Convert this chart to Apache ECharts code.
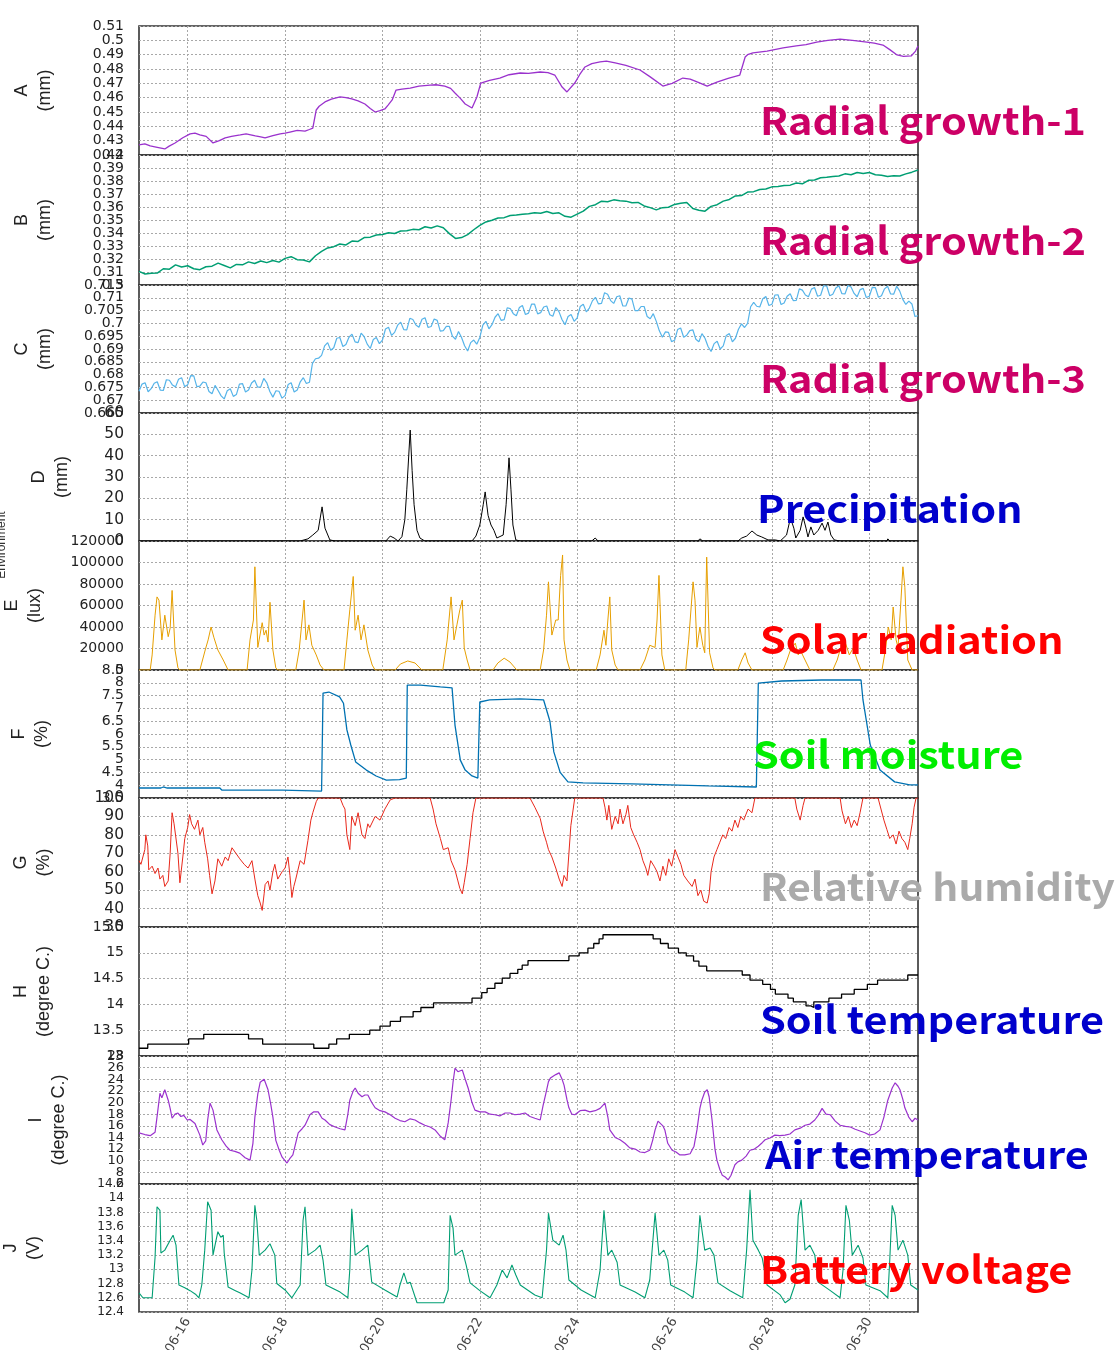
<!DOCTYPE html>
<html>
<head>
<meta charset="utf-8">
<script src="https://cdn.jsdelivr.net/npm/echarts@6/dist/echarts.min.js"></script>
<style>html,body{margin:0;padding:0;background:#fff}#c{width:1117px;height:1350px}</style>
</head>
<body>
<div id="c"></div>
<script>
// ---- x axis (day of June) ----
const dayTicks = [16, 18, 20, 22, 24, 26, 28, 30];
const dayLabels = ['06-16', '06-18', '06-20', '06-22', '06-24', '06-26', '06-28', '06-30'];

// ---- panel names / units ----
const panelLetters = ['A', 'B', 'C', 'D', 'E', 'F', 'G', 'H', 'I', 'J'];
const panelUnits = ['(mm)', '(mm)', '(mm)', '(mm)', '(lux)', '(%)', '(%)', '(degree C.)', '(degree C.)', '(V)'];
const yMins = [0.42, 0.30, 0.665, 0, 0, 3.5, 30, 13, 6, 12.4];
const yMaxs = [0.51, 0.40, 0.715, 60, 120000, 8.5, 100, 15.5, 28, 14.2];
const yIntervals = [0.01, 0.01, 0.005, 10, 20000, 0.5, 10, 0.5, 2, 0.2];
const overlayLabels = ['Radial growth-1', 'Radial growth-2', 'Radial growth-3', 'Precipitation', 'Solar radiation',
  'Soil moisture', 'Relative humidity', 'Soil temperature', 'Air temperature', 'Battery voltage'];

// ---- A: radial growth 1 (mm) [day, value] ----
const seriesA = [[15.00,.4270],[15.12,.4278],[15.23,.4263],[15.35,.4255],[15.53,.4242],[15.62,.4262],[15.74,.4284],[15.90,.4320],
[16.05,.4347],[16.15,.4352],[16.25,.4340],[16.38,.4330],[16.52,.4284],[16.65,.4300],[16.77,.4319],[16.90,.4330],[17.08,.4340],
[17.20,.4348],[17.39,.4333],[17.50,.4326],[17.59,.4319],[17.75,.4335],[17.90,.4347],[18.00,.4352],[18.10,.4360],[18.25,.4372],
[18.41,.4367],[18.50,.4378],[18.57,.4388],[18.64,.4514],[18.70,.4540],[18.82,.4570],[18.95,.4590],[19.13,.4605],[19.25,.4600],
[19.37,.4591],[19.50,.4578],[19.64,.4556],[19.75,.4525],[19.85,.4500],[19.95,.4510],[20.05,.4521],[20.12,.4550],[20.20,.4584],
[20.28,.4653],[20.40,.4660],[20.57,.4667],[20.75,.4680],[20.98,.4688],[21.10,.4690],[21.28,.4681],[21.40,.4665],[21.49,.4633],
[21.60,.4595],[21.70,.4556],[21.84,.4528],[21.94,.4605],[22.02,.4702],[22.20,.4720],[22.41,.4737],[22.60,.4760],[22.83,.4772],
[23.00,.4770],[23.24,.4779],[23.40,.4775],[23.54,.4758],[23.69,.4674],[23.79,.4640],[23.95,.4702],[24.05,.4760],[24.16,.4814],
[24.30,.4838],[24.47,.4849],[24.60,.4855],[24.78,.4842],[25.00,.4825],[25.29,.4793],[25.50,.4745],[25.76,.4681],[25.95,.4700],
[26.17,.4737],[26.32,.4730],[26.50,.4705],[26.67,.4681],[26.87,.4709],[27.10,.4735],[27.34,.4758],[27.45,.4884],[27.50,.4900],
[27.61,.4912],[27.90,.4925],[28.23,.4947],[28.50,.4962],[28.70,.4970],[28.92,.4988],[29.15,.5000],[29.40,.5009],[29.70,.4998],
[29.95,.4988],[30.10,.4980],[30.28,.4967],[30.42,.4935],[30.57,.4898],[30.70,.4888],[30.86,.4891],[30.95,.4925],[31.00,.4960]];

// ---- B: radial growth 2 (mm), every 3 hours from 06-15 00:00 ----
const seriesBStep = 0.125;
const seriesB = [.3105,.3085,.3090,.3092,.3125,.3122,.3155,.3138,.3148,.3125,.3118,.3140,.3145,.3168,.3150,.3132,.3158,.3155,
.3178,.3165,.3185,.3172,.3188,.3176,.3205,.3218,.3195,.3192,.3178,.3225,.3258,.3285,.3295,.3315,.3308,.3338,.3335,.3365,.3368,
.3385,.3388,.3402,.3396,.3415,.3418,.3428,.3425,.3448,.3438,.3455,.3440,.3395,.3358,.3365,.3388,.3425,.3458,.3485,.3498,.3515,
.3518,.3535,.3538,.3545,.3548,.3556,.3552,.3565,.3550,.3555,.3528,.3522,.3545,.3568,.3605,.3618,.3645,.3640,.3655,.3648,.3645,
.3632,.3635,.3608,.3595,.3578,.3595,.3598,.3620,.3628,.3635,.3588,.3575,.3568,.3605,.3618,.3645,.3658,.3685,.3688,.3715,.3718,
.3735,.3738,.3755,.3758,.3765,.3768,.3785,.3778,.3805,.3808,.3825,.3828,.3835,.3838,.3855,.3848,.3865,.3858,.3865,.3848,.3845,
.3835,.3840,.3838,.3855,.3868,.3885];

// ---- C: radial growth 3 (mm), every 1.5 hours from 06-15 00:00 ----
const seriesCStep = 0.0625;
const seriesC = [.6735,.6763,.6768,.6733,.6745,.6766,.6772,.6739,.6738,.6780,.6778,.6759,.6752,.6782,.6788,.6753,.6760,.6796,
.6795,.6753,.6755,.6771,.6768,.6734,.6725,.6758,.6738,.6717,.6705,.6737,.6745,.6715,.6722,.6763,.6765,.6732,.6740,.6767,
.6778,.6751,.6752,.6785,.6768,.6734,.6712,.6737,.6735,.6708,.6718,.6761,.6768,.6732,.6740,.6772,.6788,.6765,.6770,.6844,
.6862,.6864,.6875,.6912,.6925,.6895,.6905,.6942,.6945,.6910,.6918,.6946,.6958,.6928,.6925,.6962,.6948,.6919,.6902,.6937,
.6945,.6921,.6935,.6978,.6985,.6953,.6965,.6993,.7005,.6976,.6975,.7020,.7015,.6994,.6985,.7016,.7022,.6984,.6988,.7017,
.7012,.6970,.6972,.6988,.6988,.6950,.6938,.6968,.6945,.6913,.6892,.6925,.6935,.6919,.6945,.6993,.7008,.6979,.6995,.7024,
.7038,.7012,.7015,.7061,.7058,.7038,.7030,.7062,.7070,.7035,.7040,.7075,.7075,.7037,.7042,.7064,.7068,.7034,.7028,.7062,
.7046,.7015,.6995,.7027,.7035,.7008,.7022,.7066,.7075,.7045,.7060,.7088,.7102,.7076,.7078,.7120,.7114,.7089,.7078,.7104,
.7108,.7068,.7068,.7099,.7095,.7050,.7050,.7066,.7066,.7027,.7018,.7038,.7008,.6971,.6946,.6967,.6965,.6929,.6934,.6976,
.6982,.6946,.6954,.6972,.6975,.6938,.6928,.6960,.6942,.6910,.6890,.6921,.6930,.6900,.6912,.6953,.6960,.6928,.6942,.6977,
.6998,.6984,.7000,.7065,.7082,.7067,.7064,.7096,.7105,.7070,.7075,.7111,.7112,.7074,.7080,.7106,.7116,.7089,.7090,.7135,
.7130,.7111,.7104,.7134,.7140,.7106,.7110,.7147,.7146,.7108,.7114,.7138,.7147,.7116,.7115,.7148,.7142,.7117,.7104,.7132,
.7137,.7101,.7106,.7141,.7140,.7102,.7108,.7135,.7145,.7115,.7114,.7145,.7126,.7094,.7074,.7087,.7076,.7027,.7030];

// ---- D: precipitation (mm) [day, value] ----
const seriesD = [[15.00,0],[18.31,0],[18.47,1],[18.57,2.8],[18.68,5],[18.76,16],[18.82,6],[18.92,0.5],[19.03,0],[20.07,0],
[20.16,2.3],[20.24,1.4],[20.32,0],[20.40,2],[20.46,10],[20.50,24],[20.57,52],[20.61,33],[20.65,17],[20.71,5],[20.77,1.4],
[20.87,0],[21.84,0],[21.92,2.3],[22.00,7.5],[22.07,17],[22.11,23],[22.17,12],[22.23,7.5],[22.29,5],[22.35,1.4],[22.48,2.8],
[22.54,17],[22.60,39],[22.64,24],[22.68,7.5],[22.74,0.5],[22.83,0],[24.30,0],[24.37,1.4],[24.43,0],[26.48,0],[26.52,1],
[26.58,0],[27.30,0],[27.38,1.4],[27.48,2.3],[27.59,4.7],[27.69,2.8],[27.79,1.9],[27.92,0.5],[28.07,0.5],[28.17,0],[28.30,2.8],
[28.38,10.8],[28.45,6],[28.49,1.4],[28.58,5],[28.64,11.3],[28.70,6],[28.74,1.9],[28.80,6.6],[28.86,2.8],[28.95,5],[29.03,8.4],
[29.09,5],[29.15,8.9],[29.21,2.8],[29.28,0.5],[29.40,0],[30.36,0],[30.38,1],[30.42,0],[31.00,0]];

// ---- E: solar radiation (lux) [day, value] ----
const seriesE = [[15.00,0],[15.23,0],[15.27,14000],[15.33,51000],[15.37,68000],[15.41,65000],[15.47,28000],[15.53,51000],
[15.60,31000],[15.64,39000],[15.68,74000],[15.74,18600],[15.80,2000],[15.84,0],
[16.25,0],[16.36,18600],[16.42,28000],[16.48,40000],[16.54,30000],[16.62,18600],[16.73,9300],[16.83,0],
[17.22,0],[17.28,28000],[17.35,46500],[17.38,96000],[17.44,21000],[17.53,44000],[17.57,32500],[17.61,37000],[17.65,26000],
[17.69,63000],[17.75,18600],[17.81,2000],[17.85,0],
[18.22,0],[18.29,18600],[18.35,46500],[18.39,65000],[18.43,28000],[18.49,42000],[18.55,23000],[18.64,14000],[18.72,4600],[18.80,0],
[19.21,0],[19.27,28000],[19.33,56000],[19.40,87000],[19.44,37000],[19.50,51000],[19.56,28000],[19.62,42000],[19.70,18600],
[19.79,4600],[19.85,0],
[20.26,0],[20.37,5600],[20.52,8400],[20.67,6500],[20.81,0],
[21.24,0],[21.33,28000],[21.41,68000],[21.47,28000],[21.53,42000],[21.59,56000],[21.64,65000],[21.68,20500],[21.74,9300],[21.80,0],
[22.27,0],[22.37,6500],[22.50,11000],[22.62,7400],[22.76,0],
[23.24,0],[23.31,18600],[23.37,51000],[23.41,82000],[23.48,32500],[23.56,46500],[23.61,46500],[23.66,88000],[23.70,107000],
[23.73,28000],[23.79,9300],[23.85,0],
[24.39,0],[24.47,14000],[24.55,37000],[24.59,23000],[24.63,46500],[24.67,68000],[24.71,18600],[24.78,4600],[24.84,0],
[25.29,0],[25.39,9300],[25.49,23000],[25.60,21000],[25.64,46500],[25.68,88000],[25.74,14000],[25.80,0],
[26.23,0],[26.29,28000],[26.38,82000],[26.42,65000],[26.46,21000],[26.52,40000],[26.58,23000],[26.62,16000],[26.66,105000],
[26.72,16000],[26.79,2000],[26.83,0],
[27.30,0],[27.38,9300],[27.45,16000],[27.51,6500],[27.59,0],
[28.23,0],[28.31,9300],[28.38,18600],[28.48,25000],[28.54,14000],[28.58,18600],[28.68,9300],[28.78,0],
[29.25,0],[29.34,9300],[29.40,18600],[29.51,25000],[29.59,14000],[29.67,20500],[29.75,9300],[29.83,0],
[30.26,0],[30.33,18600],[30.39,40000],[30.45,28000],[30.49,58600],[30.55,28000],[30.59,21000],[30.65,65000],[30.69,96000],
[30.73,77000],[30.79,9300],[30.88,0],[31.00,0]];

// ---- F: soil moisture (%) [day, value] ----
const seriesF = [[15.00,3.89],[15.45,3.89],[15.50,3.93],[15.58,3.89],[16.66,3.89],[16.70,3.81],[17.95,3.81],[17.99,3.77],
[18.75,3.77],[18.78,7.60],[18.90,7.64],[19.12,7.45],[19.20,7.20],[19.27,6.16],[19.35,5.57],[19.45,4.91],[19.67,4.59],
[19.87,4.36],[20.08,4.20],[20.35,4.22],[20.49,4.28],[20.51,7.91],[20.78,7.91],[21.19,7.84],[21.43,7.80],[21.49,6.35],
[21.60,4.98],[21.70,4.59],[21.84,4.36],[21.96,4.28],[22.00,7.25],[22.20,7.33],[22.82,7.37],[23.31,7.33],[23.44,6.5],
[23.52,5.3],[23.65,4.5],[23.81,4.13],[24.12,4.09],[25.12,4.05],[26.68,3.97],[27.68,3.93],[27.72,7.99],[28.20,8.07],
[29.02,8.11],[29.83,8.11],[29.87,7.33],[30.02,5.57],[30.22,4.59],[30.52,4.13],[30.83,4.01],[31.00,4.01]];

// ---- G: relative humidity (%) [day, value] ----
const seriesG = [[15.00,66],[15.04,64],[15.08,65],[15.12,72],[15.14,80],[15.18,74],[15.20,61],[15.27,63],[15.33,59],[15.39,62],
[15.43,56],[15.49,58],[15.53,52],[15.60,55],[15.64,70],[15.68,92],[15.72,86],[15.76,85],[15.80,70],[15.84,54],[15.90,68],
[15.94,78],[16.00,84],[16.04,91],[16.08,86],[16.14,83],[16.21,88],[16.25,80],[16.31,84],[16.35,76],[16.41,67],[16.45,58],
[16.50,48],[16.56,55],[16.62,67],[16.70,63],[16.77,68],[16.83,66],[16.91,73],[16.99,70],[17.07,67],[17.16,64],[17.24,62],
[17.32,66],[17.38,56],[17.44,47],[17.49,43],[17.53,39],[17.57,48],[17.59,53],[17.65,55],[17.69,50],[17.75,60],[17.79,64],
[17.85,56],[17.94,60],[18.00,62],[18.06,68],[18.10,58],[18.14,46],[18.18,52],[18.22,56],[18.31,66],[18.39,64],[18.47,77],
[18.53,88],[18.57,92],[18.64,98],[18.68,100],[19.13,100],[19.19,96],[19.23,94],[19.27,80],[19.33,72],[19.37,90],[19.44,85],
[19.50,92],[19.58,80],[19.64,78],[19.70,86],[19.74,84],[19.85,90],[19.95,88],[20.05,94],[20.16,99],[20.26,100],[20.98,100],
[21.04,94],[21.10,86],[21.19,78],[21.25,72],[21.35,73],[21.41,66],[21.49,61],[21.55,55],[21.59,51],[21.64,48],[21.68,54],
[21.74,64],[21.80,78],[21.86,92],[21.92,100],[23.03,100],[23.13,95],[23.24,89],[23.30,82],[23.37,76],[23.41,72],[23.48,68],
[23.56,62],[23.63,56],[23.69,52],[23.73,58],[23.79,55],[23.83,70],[23.87,85],[23.95,100],[24.53,100],[24.57,95],[24.61,88],
[24.65,96],[24.71,83],[24.78,90],[24.84,86],[24.88,94],[24.94,86],[25.00,91],[25.04,96],[25.10,84],[25.16,80],[25.23,76],
[25.29,72],[25.35,66],[25.41,62],[25.45,58],[25.51,66],[25.58,63],[25.64,60],[25.70,55],[25.76,63],[25.82,58],[25.88,67],
[25.94,63],[26.01,72],[26.07,68],[26.13,64],[26.19,58],[26.27,55],[26.36,52],[26.42,56],[26.48,47],[26.54,50],[26.60,44],
[26.67,43],[26.71,48],[26.75,60],[26.81,68],[26.87,72],[26.93,76],[26.99,80],[27.05,78],[27.12,84],[27.18,82],[27.24,88],
[27.30,84],[27.36,90],[27.42,88],[27.51,94],[27.59,92],[27.65,100],[28.47,100],[28.51,94],[28.58,88],[28.64,96],[28.68,100],
[29.40,100],[29.44,93],[29.51,86],[29.57,90],[29.63,84],[29.69,88],[29.75,85],[29.81,92],[29.87,100],[30.18,100],[30.24,94],
[30.30,88],[30.36,83],[30.42,78],[30.49,80],[30.55,75],[30.61,82],[30.67,78],[30.73,76],[30.79,72],[30.83,78],[30.88,86],
[30.92,95],[30.96,100],[31.00,100]];

// ---- H: soil temperature (degree C), stepped [day, value] ----
const seriesH = [[15.00,13.15],[15.18,13.23],[16.02,13.33],[16.33,13.42],[17.25,13.33],[17.54,13.23],[18.59,13.15],[18.90,13.23],
[19.06,13.33],[19.32,13.42],[19.74,13.50],[19.95,13.58],[20.16,13.67],[20.37,13.76],[20.63,13.86],[20.79,13.94],[21.05,14.03],
[21.84,14.12],[22.04,14.23],[22.15,14.31],[22.31,14.41],[22.46,14.51],[22.62,14.60],[22.78,14.68],[22.87,14.76],[22.99,14.85],
[23.83,14.94],[24.04,15.00],[24.22,15.09],[24.34,15.18],[24.45,15.27],[24.53,15.35],[25.56,15.27],[25.71,15.18],[25.87,15.09],
[26.08,15.00],[26.24,14.94],[26.39,14.84],[26.50,14.74],[26.66,14.65],[27.39,14.57],[27.55,14.47],[27.81,14.39],[27.97,14.29],
[28.07,14.20],[28.33,14.12],[28.44,14.05],[28.70,13.97],[28.80,13.94],[28.86,14.05],[29.17,14.12],[29.43,14.20],[29.69,14.29],
[29.96,14.39],[30.17,14.47],[30.79,14.57],[31.00,14.57]];

// ---- I: air temperature (degree C) [day, value] ----
const seriesI = [[15.00,14.8],[15.12,14.5],[15.23,14.3],[15.33,14.9],[15.37,17.5],[15.43,21.6],[15.47,20.8],[15.53,22.2],
[15.60,20.4],[15.64,19.0],[15.68,17.3],[15.74,18.0],[15.80,18.2],[15.86,17.6],[15.92,17.8],[15.99,17.0],[16.05,17.1],
[16.15,16.4],[16.25,14.4],[16.31,12.7],[16.37,13.4],[16.41,17.0],[16.46,19.9],[16.52,18.7],[16.60,15.3],[16.70,13.6],
[16.79,12.5],[16.87,11.8],[16.97,11.6],[17.07,11.3],[17.18,10.5],[17.28,10.1],[17.34,13.0],[17.38,17.5],[17.44,21.5],
[17.49,23.5],[17.57,24.0],[17.65,22.2],[17.71,19.5],[17.75,17.5],[17.81,13.5],[17.88,11.8],[17.94,10.6],[18.04,9.6],
[18.10,10.4],[18.16,11.0],[18.27,14.8],[18.35,15.5],[18.41,16.1],[18.51,17.9],[18.59,18.4],[18.68,18.4],[18.76,17.3],
[18.82,17.0],[18.92,16.2],[19.03,15.8],[19.13,15.5],[19.23,15.3],[19.29,18.0],[19.33,20.4],[19.40,22.0],[19.44,22.5],
[19.50,21.6],[19.58,21.0],[19.64,21.3],[19.70,21.3],[19.78,20.0],[19.85,19.1],[19.95,18.6],[20.05,18.4],[20.16,17.9],
[20.26,17.3],[20.36,16.9],[20.46,16.7],[20.57,17.2],[20.67,17.0],[20.77,16.5],[20.87,16.1],[20.98,15.8],[21.08,15.3],
[21.19,14.2],[21.28,13.6],[21.35,16.5],[21.41,20.4],[21.45,23.5],[21.49,25.9],[21.55,25.3],[21.64,25.6],[21.70,24.0],
[21.76,22.5],[21.84,20.0],[21.90,18.7],[22.00,18.4],[22.11,18.4],[22.21,18.0],[22.31,17.9],[22.41,17.7],[22.52,18.2],
[22.62,18.2],[22.72,17.9],[22.83,18.0],[22.93,18.2],[23.03,17.6],[23.13,17.3],[23.24,17.0],[23.30,19.5],[23.35,21.3],
[23.41,23.6],[23.45,24.2],[23.56,24.8],[23.63,25.1],[23.69,24.0],[23.73,23.0],[23.79,20.5],[23.83,19.1],[23.89,18.0],
[23.95,17.9],[24.06,18.6],[24.16,18.7],[24.26,18.4],[24.37,18.6],[24.47,19.0],[24.57,19.9],[24.63,17.5],[24.67,15.3],
[24.78,14.0],[24.88,13.6],[24.98,13.0],[25.08,12.2],[25.19,12.0],[25.29,11.5],[25.39,11.4],[25.49,11.8],[25.55,13.5],
[25.60,15.3],[25.66,16.8],[25.70,17.0],[25.76,16.0],[25.80,15.3],[25.86,13.0],[25.95,11.8],[26.03,11.5],[26.11,11.0],
[26.21,11.0],[26.32,11.2],[26.40,12.5],[26.46,15.3],[26.52,19.0],[26.56,20.4],[26.62,21.8],[26.67,22.2],[26.71,21.0],
[26.77,17.0],[26.83,12.0],[26.87,10.1],[26.93,8.5],[26.98,7.5],[27.04,7.2],[27.10,6.7],[27.16,7.5],[27.24,9.3],[27.30,9.8],
[27.38,10.1],[27.47,10.8],[27.55,11.8],[27.64,12.0],[27.72,12.5],[27.80,13.1],[27.86,13.6],[27.96,13.9],[28.06,14.4],
[28.16,14.3],[28.27,14.4],[28.37,14.6],[28.47,15.3],[28.58,15.6],[28.68,16.1],[28.78,16.3],[28.88,17.0],[28.95,17.8],
[29.03,19.0],[29.11,18.0],[29.20,17.9],[29.30,16.8],[29.40,16.1],[29.51,15.9],[29.61,15.8],[29.71,15.4],[29.81,15.1],
[29.91,14.8],[30.01,14.4],[30.11,14.6],[30.22,15.3],[30.30,17.5],[30.38,20.4],[30.47,22.5],[30.53,23.4],[30.59,22.8],
[30.63,22.2],[30.69,20.5],[30.73,19.1],[30.81,17.5],[30.88,16.7],[30.94,17.3],[31.00,17.0]];

// ---- J: battery voltage (V) [day, value] ----
const seriesJ = [[15.00,12.67],[15.08,12.60],[15.27,12.60],[15.33,13.17],[15.37,13.88],[15.43,13.83],[15.45,13.23],[15.53,13.27],
[15.64,13.41],[15.70,13.48],[15.76,13.34],[15.82,12.78],[15.94,12.74],[16.05,12.70],[16.16,12.65],[16.23,12.60],[16.29,12.78],
[16.35,13.27],[16.41,13.95],[16.48,13.83],[16.52,13.20],[16.58,13.40],[16.62,13.53],[16.68,13.45],[16.73,13.48],[16.75,13.23],
[16.83,12.75],[16.98,12.70],[17.07,12.67],[17.26,12.60],[17.32,12.99],[17.38,13.90],[17.42,13.69],[17.47,13.20],[17.59,13.27],
[17.69,13.36],[17.73,13.37],[17.79,13.20],[17.83,12.80],[18.00,12.71],[18.14,12.60],[18.31,12.78],[18.37,13.69],[18.41,13.88],
[18.47,13.20],[18.62,13.27],[18.72,13.34],[18.78,13.13],[18.84,12.78],[19.13,12.68],[19.29,12.60],[19.33,13.00],[19.37,13.85],
[19.44,13.20],[19.58,13.27],[19.70,13.34],[19.78,12.82],[20.05,12.71],[20.30,12.61],[20.36,12.78],[20.44,12.95],[20.51,12.80],
[20.57,12.82],[20.71,12.53],[21.26,12.53],[21.35,12.71],[21.39,13.76],[21.45,13.58],[21.49,13.20],[21.64,13.27],[21.72,13.06],
[21.80,12.81],[22.00,12.70],[22.21,12.60],[22.35,12.78],[22.46,12.99],[22.56,12.88],[22.66,13.06],[22.74,12.92],[22.83,12.78],
[23.13,12.64],[23.28,12.60],[23.37,13.27],[23.41,13.79],[23.50,13.41],[23.63,13.34],[23.71,13.48],[23.77,13.27],[23.83,12.85],
[24.08,12.71],[24.37,12.60],[24.47,12.99],[24.55,13.83],[24.63,13.20],[24.71,13.27],[24.82,13.10],[24.88,12.78],[25.19,12.68],
[25.39,12.60],[25.49,12.85],[25.60,13.79],[25.68,13.20],[25.78,13.27],[25.86,13.13],[25.92,12.78],[26.21,12.68],[26.38,12.60],
[26.46,13.13],[26.52,13.76],[26.62,13.27],[26.73,13.30],[26.81,13.20],[26.89,12.81],[27.14,12.70],[27.40,12.60],[27.48,13.27],
[27.55,14.12],[27.61,13.41],[27.72,13.27],[27.80,13.16],[27.90,12.78],[28.17,12.64],[28.27,12.53],[28.37,12.58],[28.47,12.78],
[28.54,13.76],[28.60,13.98],[28.68,13.27],[28.78,13.34],[28.88,13.20],[28.95,12.82],[29.20,12.70],[29.40,12.60],[29.46,12.99],
[29.52,13.90],[29.59,13.69],[29.65,13.20],[29.77,13.34],[29.87,13.16],[29.93,12.78],[30.22,12.70],[30.38,12.60],[30.42,13.13],
[30.47,13.90],[30.53,13.76],[30.59,13.27],[30.69,13.41],[30.79,13.20],[30.85,12.78],[31.00,12.71]];

// ---------------- build chart ----------------
const regular = (vals, step) => vals.map((v, k) => [15 + k * step, v]);
const allData = [seriesA, regular(seriesB, seriesBStep), regular(seriesC, seriesCStep), seriesD, seriesE,
  seriesF, seriesG, seriesH, seriesI, seriesJ];
const lineColors = ['#9a32cd', '#009e73', '#56b4e9', '#000000', '#e69f00', '#0072b2', '#e8281b', '#000000', '#9a32cd', '#009e73'];
const lineWidths = [1.3, 1.5, 1.2, 1, 1, 1.3, 1, 1.3, 1.2, 1.1];
const overlayColors = ['#cc0066', '#cc0066', '#cc0066', '#0000cc', '#ff0000', '#00ee00', '#aaaaaa', '#0000cc', '#0000cc', '#ff0000'];
const overlayX = [760, 760, 760, 757, 760, 753, 760, 760, 765, 760];
const overlayTop = [102, 222, 360, 490, 621, 736, 868, 1001, 1136, 1251];
const overlayScale = [1.09, 1.09, 1.09, 1.09, 1.09, 1.09, 1.07, 1.09, 1.09, 1.09];
const gridTops = [26, 155, 285, 413, 541, 670, 798, 927, 1056, 1184, 1312];
const nameGaps = [82, 82, 82, 65, 92, 85, 83, 83, 68, 93];
const labelSizes = [14, 14, 14, 15.5, 14, 14, 15.5, 14, 13, 12];

const grid = [], xAxis = [], yAxis = [], series = [];
const gridLine = { show: true, lineStyle: { color: '#a8a8a8', type: [2, 2], width: 1 } };
const fmt = v => String(+(+v).toFixed(4));
for (let i = 0; i < 10; i++) {
  grid.push({ left: 139, width: 779, top: gridTops[i], height: gridTops[i + 1] - gridTops[i],
    show: true, borderColor: '#333', borderWidth: 1.6, backgroundColor: 'transparent', outerBoundsMode: 'none', containLabel: false });
  const last = i === 9;
  xAxis.push({ type: 'value', gridIndex: i, min: 15, max: 31, splitNumber: 8,
    axisLine: { show: false }, axisTick: { show: false, customValues: dayTicks },
    axisLabel: last ? { show: true, customValues: dayTicks, rotate: 60, margin: 7, fontSize: 13, color: '#444',
      fontFamily: 'DejaVu Sans',
      formatter: v => { const k = dayTicks.indexOf(Math.round(v)); return k >= 0 ? dayLabels[k] : ''; } } : { show: false },
    splitLine: gridLine });
  // tick values of this panel, split into two label sets so neighbours never collide
  const n = Math.round((yMaxs[i] - yMins[i]) / yIntervals[i]);
  const evenTicks = [], oddTicks = [];
  for (let k = 0; k <= n; k++) {
    const v = +(yMins[i] + k * yIntervals[i]).toFixed(6);
    (k % 2 === 0 ? evenTicks : oddTicks).push(v);
  }
  const labelBase = { fontSize: labelSizes[i], color: '#222', margin: 15, fontFamily: 'DejaVu Sans',
    showMinLabel: true, showMaxLabel: true, hideOverlap: false, formatter: fmt };
  yAxis.push({ type: 'value', gridIndex: i, min: yMins[i], max: yMaxs[i], interval: yIntervals[i],
    name: panelLetters[i] + '\n' + panelUnits[i], nameLocation: 'middle', nameRotate: 90, nameGap: nameGaps[i],
    nameMoveOverlap: false,
    nameTextStyle: { fontSize: 18, lineHeight: 23, color: '#222', fontFamily: 'Liberation Sans', align: 'center' },
    axisLine: { show: false }, axisTick: { show: false },
    axisLabel: Object.assign({ customValues: evenTicks }, labelBase),
    splitLine: gridLine });
  yAxis.push({ type: 'value', gridIndex: i, min: yMins[i], max: yMaxs[i], interval: yIntervals[i], position: 'left',
    axisLine: { show: false }, axisTick: { show: false }, splitLine: { show: false },
    axisLabel: Object.assign({ customValues: oddTicks }, labelBase) });
  series.push({ type: 'line', xAxisIndex: i, yAxisIndex: 2 * i, data: allData[i], showSymbol: false, symbol: 'none',
    step: i === 7 ? 'end' : false, lineStyle: { color: lineColors[i], width: lineWidths[i] },
    itemStyle: { color: lineColors[i] }, animation: false, z: 3 });
}

const graphic = overlayLabels.map((t, i) => ({ type: 'text', x: overlayX[i], y: overlayTop[i], scaleX: overlayScale[i], z: 100,
  style: { text: t, fill: overlayColors[i], font: 'bold 38px "Noto Sans CJK KR"', verticalAlign: 'top' } }));
graphic.push({ type: 'text', x: 2, y: 545, rotation: Math.PI / 2, z: 100,
  style: { text: 'Environment', fill: '#333', font: '12px "Liberation Sans"', align: 'center', verticalAlign: 'middle' } });

const chart = echarts.init(document.getElementById('c'), null, { renderer: 'canvas' });
chart.setOption({ animation: false, backgroundColor: '#fff', grid, xAxis, yAxis, series, graphic });
</script>
</body>
</html>
